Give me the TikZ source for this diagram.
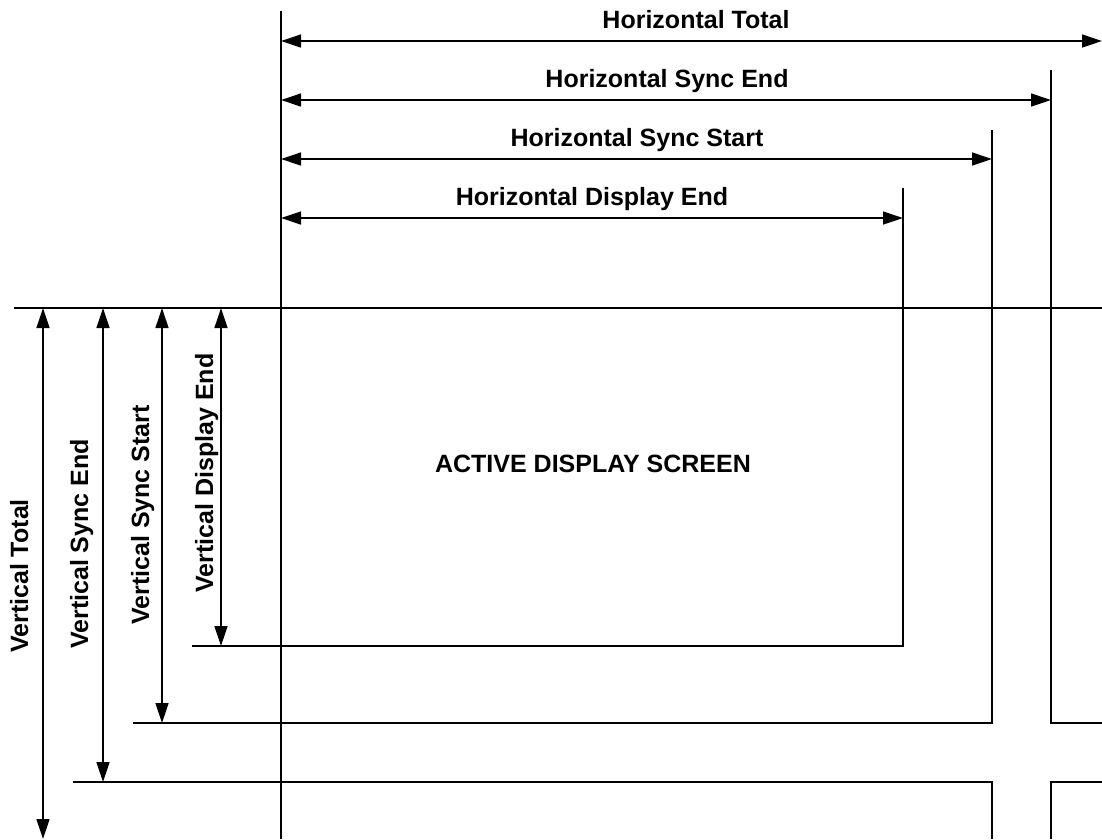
\documentclass[tikz,border=0pt]{standalone}
\usepackage{fontspec}
\setmainfont{Liberation Sans}
\usetikzlibrary{arrows.meta}

\begin{document}
\begin{tikzpicture}[x=1pt, y=-1pt, line width=1.3pt,
    >={Triangle[length=20pt, width=13pt]},
    dim/.style={<->},
    lbl/.style={font=\bfseries\fontsize{25}{30}\selectfont, inner sep=0pt, anchor=base}]
        \useasboundingbox (0,0) rectangle (1102,839);
        % Corners
        \coordinate (Top) at (281,11);
        \coordinate (Bot) at (281,839);
        \coordinate (Left) at (14,308);
        \coordinate (Right) at (1102,308);
        \coordinate (DEt) at (903,188);
        \coordinate (DEc) at (903,646);
        \coordinate (DEl) at (192,646);
        \coordinate (SSt) at (992,130);
        \coordinate (SSc) at (992,723);
        \coordinate (SSl) at (133,723);
        \coordinate (SEt) at (1051,70);
        \coordinate (SEc) at (1051,723);
        \coordinate (SEr) at (1102,723);
        \coordinate (BLl) at (73,782);
        \coordinate (BLc) at (992,782);
        \coordinate (BLb) at (992,839);
        \coordinate (BRr) at (1102,782);
        \coordinate (BRc) at (1051,782);
        \coordinate (BRb) at (1051,839);
        % Arrow ends
        \coordinate (HTa) at (281,41);   \coordinate (HTb) at (1102,41);
        \coordinate (HSEa) at (281,100); \coordinate (HSEb) at (SEt |- HSEa);
        \coordinate (HSSa) at (281,159); \coordinate (HSSb) at (SSt |- HSSa);
        \coordinate (HDEa) at (281,218); \coordinate (HDEb) at (DEt |- HDEa);
        \coordinate (VDEa) at (221,308); \coordinate (VDEb) at (VDEa |- DEl);
        \coordinate (VSSa) at (162,308); \coordinate (VSSb) at (VSSa |- SSl);
        \coordinate (VSEa) at (103,308); \coordinate (VSEb) at (VSEa |- BLl);
        \coordinate (VTa) at (43,308);   \coordinate (VTb) at (43,839);
        % Nodes
        \node[lbl] (HT) at (696,28) {Horizontal Total};
        \node[lbl] (HSE) at (667,87) {Horizontal Sync End};
        \node[lbl] (HSS) at (637,146) {Horizontal Sync Start};
        \node[lbl] (HDE) at (592,205) {Horizontal Display End};
        \node[lbl] (ADS) at (593,472) {ACTIVE DISPLAY SCREEN};
        \node[lbl, rotate=90] (VT) at (28,576) {Vertical Total};
        \node[lbl, rotate=90] (VSE) at (88,544) {Vertical Sync End};
        \node[lbl, rotate=90] (VSS) at (149,515) {Vertical Sync Start};
        \node[lbl, rotate=90] (VDE) at (213,473) {Vertical Display End};
        % Lines
        \draw (Top) -- (Bot);
        \draw (Left) -- (Right);
        \draw (DEt) -- (DEc) -- (DEl);
        \draw (SSt) -- (SSc) -- (SSl);
        \draw (SEt) -- (SEc) -- (SEr);
        \draw (BLl) -- (BLc) -- (BLb);
        \draw (BRr) -- (BRc) -- (BRb);
        % Arrows
        \path[dim] (HTa) edge (HTb);
        \path[dim] (HSEa) edge (HSEb);
        \path[dim] (HSSa) edge (HSSb);
        \path[dim] (HDEa) edge (HDEb);
        \path[dim] (VDEa) edge (VDEb);
        \path[dim] (VSSa) edge (VSSb);
        \path[dim] (VSEa) edge (VSEb);
        \path[dim] (VTa) edge (VTb);
    \end{tikzpicture}
\end{document}
